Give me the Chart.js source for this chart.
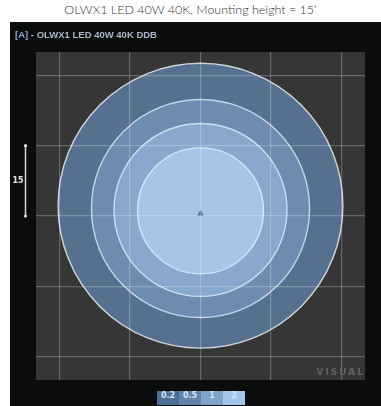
<!DOCTYPE html>
<html>
<head>
<meta charset="utf-8">
<script src="https://cdn.jsdelivr.net/npm/chart.js@4.4.1/dist/chart.umd.min.js"></script>
<style>
  html, body { margin: 0; padding: 0; background: #fff; }
  #page { position: relative; width: 381px; height: 406px; overflow: hidden; }
  #heading {
    position: absolute; left: 0; top: 2px; width: 381px; text-align: center;
    font: 300 12.5px "Lato", "Open Sans", sans-serif; color: #333;
  }
  #panel { position: absolute; left: 10px; top: 22px; width: 371px; height: 384px; background: #0b0c0c; }
  #iso { position: absolute; left: 0; top: 0; }
  #key { position: absolute; left: 147px; top: 369px; display: flex; }
  #key span {
    display: block; width: 22px; height: 14px; line-height: 14px; text-align: center;
    font: bold 8px "DejaVu Sans", sans-serif; color: #d6e4f3;
  }
</style>
</head>
<body>
<div id="page">
  <div id="heading">OLWX1 LED 40W 40K, Mounting height = 15’</div>
  <div id="panel">
    <canvas id="iso" width="371" height="384"></canvas>
    <div id="key"></div>
  </div>
</div>
<script>
// isofootcandle levels (fc), outermost first
const levels = ['0.2', '0.5', '1', '2'];
// contour size in feet and forward offset of its centre (ft)
const radiusFt = [30.3, 23.2, 18.4, 13.4];
const offsetFt = [2.2, 1.6, 1.3, 1.1];
const fillColors = ['#56718f', '#6d8cb0', '#88a8cd', '#a6c6e8'];
const lineColors = ['#d0d6dc', '#c3d6ea', '#cadef2', '#d4e6f8'];
const keyColors = ['#4f6e94', '#6484ab', '#80a3cc', '#a3c6ee'];
// grid every 15 ft, field shown +/-35 ft
const gridFt = [-30, -15, 0, 15, 30];
const fieldFt = 35;
const scaleBarFt = 15;

// feet -> pixels along the x scale
const ftToPx = (chart, ft) => {
  const s = chart.scales.x;
  const px = s.getPixelForValue(ft) - s.getPixelForValue(0);
  return isFinite(px) ? Math.max(px, 0) : 0;
};

const contours = levels.map((lvl, i) => ({
  label: lvl + ' fc',
  data: [{ x: 0, y: offsetFt[i], ft: radiusFt[i] }],
  pointBackgroundColor: fillColors[i],
  pointBorderColor: lineColors[i],
  pointBorderWidth: 1.4,
  pointRadius: ctx => ftToPx(ctx.chart, ctx.raw.ft),
  showLine: false,
  order: levels.length - i
}));

// luminaire marker at the origin
contours.push({
  label: 'A',
  data: [{ x: 0, y: 0.5 }],
  pointStyle: 'triangle',
  pointRadius: 4,
  pointBackgroundColor: '#56739a',
  pointBorderWidth: 0,
  showLine: false,
  order: 0
});

const panelDeco = {
  id: 'panelDeco',
  beforeDraw(chart) {
    const { ctx, chartArea: a } = chart;
    ctx.save();
    ctx.fillStyle = '#363636';
    ctx.fillRect(a.left, a.top, a.right - a.left, a.bottom - a.top);
    ctx.restore();
  },
  afterDraw(chart) {
    const { ctx, chartArea: a, scales } = chart;
    ctx.save();
    // panel caption
    ctx.font = 'bold 9.5px "Liberation Sans", sans-serif';
    ctx.textBaseline = 'middle';
    ctx.fillStyle = '#86a9d6';
    ctx.fillText('[A]', 5, 13);
    const w = ctx.measureText('[A] ').width;
    ctx.fillStyle = '#a9b9cc';
    ctx.fillText('- OLWX1 LED 40W 40K DDB', 5 + w, 13);

    // scale bar
    const y0 = scales.y.getPixelForValue(0);
    const y1 = scales.y.getPixelForValue(scaleBarFt);
    const bx = 15.5;
    ctx.strokeStyle = '#d8d8d8';
    ctx.lineWidth = 1.5;
    ctx.beginPath();
    ctx.moveTo(bx, y0);
    ctx.lineTo(bx, y1);
    ctx.stroke();
    ctx.fillStyle = '#e0e0e0';
    [y0, y1].forEach(y => { ctx.beginPath(); ctx.arc(bx, y, 1.6, 0, Math.PI * 2); ctx.fill(); });
    ctx.font = 'bold 8px "DejaVu Sans", sans-serif';
    ctx.fillStyle = '#e6e6e6';
    ctx.textAlign = 'center';
    ctx.fillText(String(scaleBarFt), bx - 7.5, (y0 + y1) / 2);

    // watermark
    ctx.font = 'bold 9px "DejaVu Sans", sans-serif';
    ctx.letterSpacing = '2px';
    ctx.fillStyle = '#626262';
    ctx.textAlign = 'right';
    ctx.fillText('VISUAL', a.right, a.bottom - 7);
    ctx.restore();
  }
};

const axis = {
  type: 'linear',
  min: -fieldFt,
  max: fieldFt,
  afterBuildTicks: s => { s.ticks = gridFt.map(v => ({ value: v })); },
  ticks: { display: false },
  border: { display: false },
  grid: { color: 'rgba(255,255,255,0.24)', lineWidth: 1.2, drawTicks: false, z: 1 }
};

new Chart(document.getElementById('iso'), {
  type: 'scatter',
  data: { datasets: contours },
  options: {
    responsive: false,
    animation: false,
    layout: { autoPadding: false, padding: { left: 26, top: 30, right: 16, bottom: 26 } },
    scales: { x: axis, y: { ...axis } },
    plugins: { legend: { display: false }, tooltip: { enabled: false } },
    events: []
  },
  plugins: [panelDeco]
});

// colour key under the plot
const key = document.getElementById('key');
levels.forEach((lvl, i) => {
  const cell = document.createElement('span');
  cell.textContent = lvl;
  cell.style.background = keyColors[i];
  key.appendChild(cell);
});
</script>
</body>
</html>
